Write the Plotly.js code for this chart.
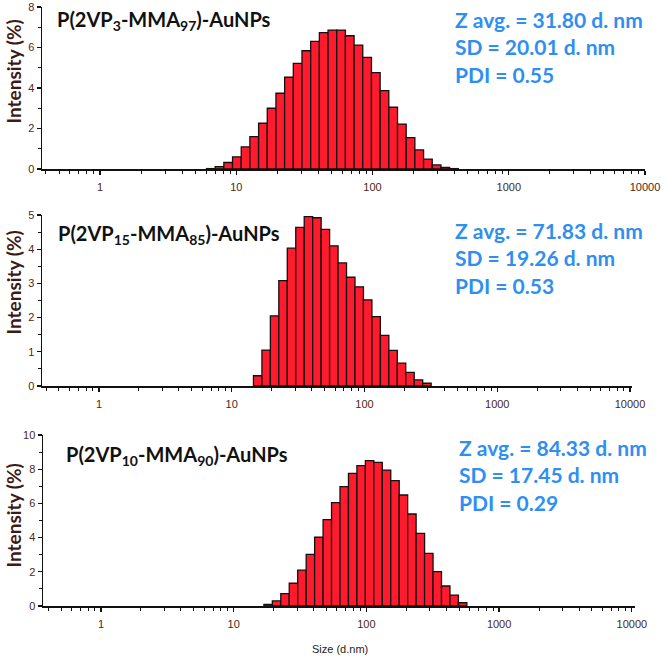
<!DOCTYPE html>
<html>
<head>
<meta charset="utf-8">
<script src="https://cdn.plot.ly/plotly-3.0.1.min.js"></script>
<style>html,body{margin:0;padding:0;background:#fff;}#chart{width:663px;height:659px;}</style>
</head>
<body>
<div id="chart"></div>
<script>
// ---- data ----
const sizeBins = [6.503, 7.531, 8.721, 10.1, 11.7, 13.54, 15.69, 18.17, 21.04, 24.36, 28.21, 32.67,
  37.84, 43.82, 50.75, 58.77, 68.06, 78.82, 91.28, 105.7, 122.4, 141.8, 164.2, 190.1, 220.2,
  255.0, 295.3, 342.0, 396.1, 458.7, 531.2, 615.1];
const intensity_3_97 = [0.02, 0.12, 0.32, 0.6, 1.09, 1.6, 2.26, 3.0, 3.74, 4.53, 5.22, 5.84,
  6.3, 6.73, 6.86, 6.86, 6.58, 6.12, 5.51, 4.76, 3.87, 3.05, 2.22, 1.55, 0.94,
  0.49, 0.2, 0.08, 0.02, 0, 0, 0];
const intensity_15_85 = [0, 0, 0, 0, 0, 0, 0.3, 1.05, 2.05, 3.08, 4.03, 4.64,
  4.95, 4.92, 4.58, 4.1, 3.6, 3.18, 2.9, 2.52, 2.03, 1.48, 1.04, 0.67, 0.4,
  0.18, 0.08, 0, 0, 0, 0, 0];
const intensity_10_90 = [0, 0, 0, 0, 0, 0, 0, 0.1, 0.3, 0.72, 1.33, 2.1,
  3.02, 4.02, 5.05, 6.04, 6.98, 7.76, 8.21, 8.5, 8.4, 7.95, 7.33, 6.49, 5.38,
  4.25, 3.08, 2.01, 1.17, 0.64, 0.19, 0];
const sampleNames = ["P(2VP<sub>3</sub>-MMA<sub>97</sub>)-AuNPs",
                     "P(2VP<sub>15</sub>-MMA<sub>85</sub>)-AuNPs",
                     "P(2VP<sub>10</sub>-MMA<sub>90</sub>)-AuNPs"];
const zAvg = ["31.80", "71.83", "84.33"];
const sdVals = ["20.01", "19.26", "17.45"];
const pdiVals = ["0.55", "0.53", "0.29"];
const majorTickVals = [1, 10, 100, 1000, 10000];
const majorTickText = ["1", "10", "100", "1000", "10000"];
const yTitle = "Intensity (%)";
const xTitle = "Size (d.nm)";

// ---- geometry helpers ----
const W = 663, H = 659;
const px = x => x / W;
const py = y => 1 - y / H;

// log-spaced bins: bar edges half a step either side of each centre
const n = sizeBins.length;
const logStep = (Math.log10(sizeBins[n - 1]) - Math.log10(sizeBins[0])) / (n - 1);
const half = Math.pow(10, logStep / 2);
const barWidths = sizeBins.map(s => s * half - s / half);
const barOffsets = sizeBins.map(s => s / half - s);

const minorTicks = [];
for (let d = 0.1; d < 20000; d *= 10) {
  for (let k = 2; k <= 9; k++) minorTicks.push(+(d * k).toPrecision(3));
}

const panels = [
  {vals: intensity_3_97, xd: [42, 645], xr: [-0.426, 4.0], yd: [169, 7], yr: [0, 8], dt: 2, mdt: 1,
   title: [164, 21], stats: [453, 47], ytc: 72},
  {vals: intensity_15_85, xd: [42, 632], xr: [-0.429, 4.015], yd: [386, 215], yr: [0, 5], dt: 1, mdt: 0.5,
   title: [168.5, 234], stats: [453, 258], ytc: 283},
  {vals: intensity_10_90, xd: [43, 635], xr: [-0.437, 4.024], yd: [606, 435], yr: [0, 10], dt: 2, mdt: 1,
   title: [176.5, 455], stats: [457, 474.5], ytc: 516}
];

const tickFont = {family: "Liberation Sans, Arial, sans-serif", size: 11, color: "#4a2816"};
const traces = [];
const layout = {
  width: W, height: H, margin: {l: 0, r: 0, t: 0, b: 0},
  paper_bgcolor: "#ffffff", plot_bgcolor: "rgba(0,0,0,0)",
  showlegend: false, hovermode: false, annotations: []
};

panels.forEach((p, i) => {
  const sfx = i === 0 ? "" : String(i + 1);
  traces.push({
    type: "bar", x: sizeBins, y: p.vals.map(v => (v > 0 ? v : null)),
    width: barWidths, offset: barOffsets,
    xaxis: "x" + sfx, yaxis: "y" + sfx,
    marker: {color: "#ff1a2e", line: {color: "#111111", width: 1.3}}
  });
  layout["xaxis" + sfx] = {
    type: "log", domain: [px(p.xd[0]), px(p.xd[1])], range: p.xr, anchor: "y" + sfx,
    showline: true, linecolor: "#111111", linewidth: 1.5, zeroline: false, showgrid: false,
    ticks: "outside", ticklen: 4, tickwidth: 1.3, tickcolor: "#111111", ticklabelstandoff: 3,
    tickmode: "array", tickvals: majorTickVals, ticktext: majorTickText, tickfont: tickFont,
    minor: {tickmode: "array", tickvals: minorTicks, ticks: "outside", ticklen: 3, tickwidth: 1,
            tickcolor: "#111111", showgrid: false}
  };
  layout["yaxis" + sfx] = {
    domain: [py(p.yd[0]), py(p.yd[1])], range: p.yr, anchor: "x" + sfx,
    showline: true, linecolor: "#111111", linewidth: 1.5, zeroline: false, showgrid: false,
    ticks: "outside", ticklen: 4, tickwidth: 1.3, tickcolor: "#111111",
    dtick: p.dt, tick0: 0, tickfont: tickFont,
    minor: {dtick: p.mdt, tick0: 0, ticks: "outside", ticklen: 3, tickwidth: 1, tickcolor: "#111111", showgrid: false}
  };
  layout.annotations.push({
    xref: "paper", yref: "paper", x: px(p.title[0]), y: py(p.title[1]), xanchor: "center", yanchor: "middle",
    text: "<b>" + sampleNames[i] + "</b>", showarrow: false,
    font: {family: "Lato, Calibri, sans-serif", size: 20, color: "#111111"}
  });
  layout.annotations.push({
    xref: "paper", yref: "paper", x: px(p.stats[0]), y: py(p.stats[1]), xanchor: "left", yanchor: "middle",
    align: "left", showarrow: false,
    text: "<b>Z avg. = " + zAvg[i] + " d. nm<br>SD = " + sdVals[i] + " d. nm<br>PDI = " + pdiVals[i] + "</b>",
    font: {family: "Lato, Calibri, sans-serif", size: 21, color: "#2f8ff0"}
  });
  layout.annotations.push({
    xref: "paper", yref: "paper", x: px(12.5), y: py(p.ytc), xanchor: "center", yanchor: "middle",
    textangle: -90, showarrow: false, text: "<b>" + yTitle + "</b>",
    font: {family: "Lato, Calibri, sans-serif", size: 19, color: "#3d1a14"}
  });
});

layout.annotations.push({
  xref: "paper", yref: "paper", x: px(340), y: py(649), xanchor: "center", yanchor: "middle",
  showarrow: false, text: xTitle,
  font: {family: "Liberation Sans, Arial, sans-serif", size: 11, color: "#2a1a14"}
});

Plotly.newPlot("chart", traces, layout, {displayModeBar: false, staticPlot: true});
</script>
</body>
</html>
